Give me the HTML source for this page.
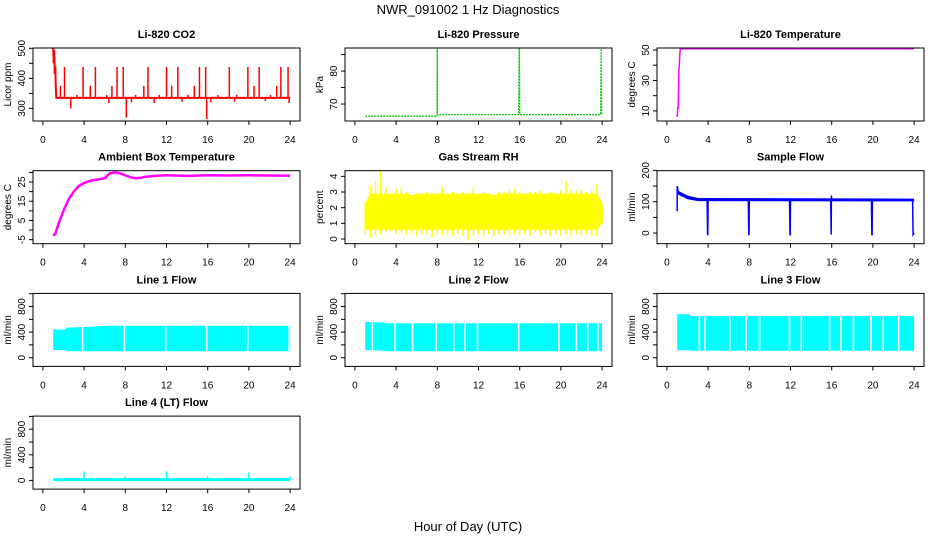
<!DOCTYPE html>
<html><head><meta charset="utf-8"><style>
body{margin:0;background:#fff;}
svg{display:block;font-family:"Liberation Sans",sans-serif;}
</style></head><body>
<svg id="chart" width="936" height="540" viewBox="0 0 936 540" xmlns="http://www.w3.org/2000/svg">
<rect width="936" height="540" fill="#fff"/>
<text x="468" y="14" text-anchor="middle" font-size="13">NWR_091002  1 Hz Diagnostics</text>
<text x="468" y="531" text-anchor="middle" font-size="13">Hour of Day (UTC)</text>
</svg>
<script>
// ---- data ----
const xTicks = [0,4,8,12,16,20,24];
const co2Hours = [1.0,1.05,1.1,1.15,1.2,1.25,1.3,24.0];
const co2Values = [500,450,495,415,440,370,335,335];
const co2Baseline = 335;
const co2SpikeHours = [2.1,3.9,5.1,7.2,7.8,10.2,12.0,13.1,15.2,15.8,18.1,19.9,21.0,23.1,23.8,1.7,3.3,4.6,6.2,6.7,9.0,9.8,11.3,12.5,14.1,14.7,17.0,18.8,20.5,22.1,22.7,8.1,15.9,2.7,6.4,8.6,10.8,13.5,16.3,18.6,21.6,23.9];
const co2SpikeValues = [438,438,438,438,438,438,438,438,438,438,438,438,438,438,438,375,345,375,345,375,345,375,345,375,345,375,345,345,375,345,375,270,265,300,318,320,318,322,320,322,325,318];
const presHours = [1.0,7.98,8.0,8.02,15.9,15.95,15.97,16.0,23.85,23.9,23.95,24.0];
const presValues = [66.3,66.3,86.8,66.8,66.8,87.0,84.5,66.8,66.8,86.8,66.9,66.9];
const ltempHours = [1.0,1.05,1.1,1.15,1.2,1.25,1.3,24.0];
const ltempValues = [6,12,12,33,40,47,50.8,50.8];
const ambHours = [1.0,1.2,1.5,2.0,2.5,3.0,3.5,4.0,4.5,5.0,5.5,6.0,6.5,7.0,7.5,8.0,8.5,9.0,9.5,10,11,12,14,16,18,20,22,24];
const ambValues = [-3,-2,3,10,16,20,23,24.5,25.5,26,26.5,27,29.5,30,29.5,28.5,27.5,27,27.2,27.8,28.3,28.5,28.2,28.5,28.4,28.5,28.4,28.3];
const rhHours = [1,1.5,2,2.5,3,3.5,4,4.5,5,5.5,6,6.5,7,7.5,8,8.5,9,9.5,10,10.5,11,11.5,12,12.5,13,13.5,14,14.5,15,15.5,16,16.5,17,17.5,18,18.5,19,19.5,20,20.5,21,21.5,22,22.5,23,23.5,24];
const rhHi = [2.3,3.4,3.7,4.4,3.3,2.9,3.2,3.3,3.0,2.8,2.9,2.9,3.0,2.9,2.9,3.3,2.9,3.0,2.9,3.0,2.9,3.3,2.9,3.0,2.9,2.8,3.0,3.0,3.1,3.2,3.0,2.9,3.0,3.0,3.1,2.9,3.0,2.9,3.1,3.7,3.2,3.1,3.2,3.0,3.1,3.5,2.3];
const rhLo = [0.3,0.1,0.2,0.3,0.4,0.5,0.3,0.4,0.3,0.4,0.2,0.3,0.3,0.1,0.3,0.2,0.3,0.2,0.3,0.2,-0.1,0.2,0.3,0.2,0.3,0.2,0.3,0.3,0.2,0.3,0.2,0.3,0.2,0.4,0.2,0.3,0.2,0.3,0.2,0.3,0.2,0.3,0.2,0.3,0.2,0.2,1.0];
const sfHours = [1.0,1.0,1.1,1.5,2.0,2.5,3.0,3.9,3.95,3.97,4.0,7.9,7.95,7.97,8.0,11.9,11.95,11.97,12.0,15.9,15.95,15.97,16.0,19.85,19.9,19.92,19.95,23.85,23.9,24.0];
const sfValues = [70,150,130,122,115,110,108,106,-5,-5,106,105,-5,-5,105,105,-5,-5,105,105,-5,120,105,105,-5,-5,105,105,-5,0];
const l1Hours = [1.0,2.2,2.3,4.0,6.5,24.0];
const l1Hi = [440,440,470,480,500,500];
const l1Lo = [120,120,100,100,100,100];
const l1Gaps = [3.85,7.92,11.92,15.9,19.88,23.92];
const l2Hours = [1.0,2.8,3.0,24.0];
const l2Hi = [560,550,540,540];
const l2Lo = [120,110,100,100];
const l2Gaps = [1.7,3.9,5.6,7.9,9.6,10.7,11.9,15.9,19.8,21.5,22.6,23.6];
const l3Hours = [1.0,2.2,2.3,24.0];
const l3Hi = [680,680,650,650];
const l3Lo = [115,115,110,110];
const l3Gaps = [3.15,3.7,6.1,7.7,9.0,11.9,13.05,15.8,16.9,18.1,19.8,21.0,22.5];
const l4SpikeHours = [4,8,12,16,20,24];
const l4SpikeValues = [140,60,140,60,130,60];
const l4Base = 12;

// ---- layout ----
const svg = document.getElementById('chart');
const NS = 'http://www.w3.org/2000/svg';
function mk(tag, attrs, parent){ const e=document.createElementNS(NS,tag); for(const k in attrs) e.setAttribute(k,attrs[k]); (parent||svg).appendChild(e); return e; }

function panel(col,row,title,ylab,ymin,ymax,ticks,labels,name){
  const L = 33+312*col, W = 267, B = 121+122.7*row, H = 73, T = B-H;
  const g = mk('g',{});
  
  
  const sx = h => L + (h+0.96)/25.92*W;
  const sy = v => B - (v-ymin)/(ymax-ymin)*H;
  const clip = mk('clipPath',{id:'c'+name},g);
  mk('rect',{x:L,y:T,width:W,height:H},clip);
  const plot = mk('g',{'clip-path':'url(#c'+name+')'},g);
  
  
  const box = mk('rect',{x:L,y:T,width:W,height:H,fill:'none',stroke:'#000','stroke-width':1},g);
  
  
  const tt = mk('text',{x:L+W/2,y:T-10,'text-anchor':'middle','font-size':11,'font-weight':'bold'},g);
  tt.textContent = title;
  
  
  const yl = mk('text',{transform:`translate(${L-22},${T+H/2}) rotate(-90)`,'text-anchor':'middle','font-size':10},g);
  yl.textContent = ylab;
  
  
  xTicks.forEach(t=>{
    mk('line',{x1:sx(t),x2:sx(t),y1:B,y2:B+4,stroke:'#000'},g);
    const tl = mk('text',{x:sx(t),y:B+22,'text-anchor':'middle','font-size':10},g);
    tl.textContent = t;
    
    
  });
  ticks.forEach(t=>{
    mk('line',{x1:L-4,x2:L,y1:sy(t),y2:sy(t),stroke:'#000'},g);
  });
  labels.forEach(t=>{
    const tl = mk('text',{transform:`translate(${L-8},${sy(t)}) rotate(-90)`,'text-anchor':'middle','font-size':10},g);
    tl.textContent = t;
    
    
  });
  return {sx,sy,plot};
}
function poly(p,hs,vs,color,w,name){
  const pts = hs.map((h,i)=>p.sx(h).toFixed(1)+','+p.sy(vs[i]).toFixed(1)).join(' ');
  const e = mk('polyline',{points:pts,fill:'none',stroke:color,'stroke-width':w},p.plot);
  
  
  return e;
}
function band(p,hs,hi,lo,color,name){
  const top = hs.map((h,i)=>p.sx(h).toFixed(1)+','+p.sy(hi[i]).toFixed(1));
  const bot = hs.map((h,i)=>p.sx(h).toFixed(1)+','+p.sy(lo[i]).toFixed(1)).reverse();
  const e = mk('polygon',{points:top.concat(bot).join(' '),fill:color},p.plot);
  
  
}
function gaps(p,gs,hi,lo,name){
  gs.forEach(h=>{
    const e = mk('line',{x1:p.sx(h),x2:p.sx(h),y1:p.sy(Math.max(...hi))-2,y2:p.sy(Math.min(...lo))+2,stroke:'#fff','stroke-width':1.6},p.plot);
    
    
  });
}

// CO2
let p = panel(0,0,'Li-820 CO2','Licor ppm',258,501,[300,350,400,450,500],[300,400,500],'co2');
poly(p,co2Hours,co2Values,'#f00',2,'co2-line');
co2SpikeHours.forEach((h,i)=>{
  const e = mk('line',{x1:p.sx(h),x2:p.sx(h),y1:p.sy(co2Baseline),y2:p.sy(co2SpikeValues[i]),stroke:'#f00','stroke-width':1.5},p.plot);
  
  
});
// Pressure
p = panel(1,0,'Li-820 Pressure','kPa',64.85,87.0,[70,75,80,85],[70,80],'pressure');
poly(p,presHours,presValues,'#0c0',1.3,'pressure-line').setAttribute('stroke-dasharray','2 1');
// Li temp
p = panel(2,0,'Li-820 Temperature','degrees C',3.4,51.3,[10,20,30,40,50],[10,30,50],'li820-temp');
poly(p,ltempHours,ltempValues,'#f0f',1.5,'li820-temp-line');
// Ambient
p = panel(0,1,'Ambient Box Temperature','degrees C',-7.1,30.9,[-5,0,5,10,15,20,25,30],[-5,5,15,25],'ambient-temp');
poly(p,ambHours,ambValues,'#f0f',2.5,'ambient-temp-line');
// RH
p = panel(1,1,'Gas Stream RH','percent',-0.3,4.36,[0,1,2,3,4],[0,1,2,3,4],'gas-rh');
band(p,rhHours,rhHi.map(v=>Math.min(v,2.9)),rhLo.map(v=>Math.max(v,0.6)),'#ff0','gas-rh-band');
rhHours.forEach((h,i)=>{
  const e = mk('line',{x1:p.sx(h),x2:p.sx(h),y1:p.sy(rhLo[i]),y2:p.sy(rhHi[i]),stroke:'#ff0','stroke-width':1.5},p.plot);
  
  
});
// Sample flow
p = panel(2,1,'Sample Flow','ml/min',-34,199,[0,50,100,150,200],[0,100,200],'sample-flow');
poly(p,sfHours,sfValues,'#00f',1.5,'sample-flow-line');
band(p,[1.1,2,3,24],[135,120,112,110],[122,108,102,101],'#00f','sample-flow-band');
// Line flows
const fT=[0,200,400,600,800,1000], fL=[0,400,800];
p = panel(0,2,'Line 1 Flow','ml/min',-136,1005,fT,fL,'line1-flow');
band(p,l1Hours,l1Hi,l1Lo,'#0ff','line1-flow-band'); gaps(p,l1Gaps,l1Hi,l1Lo,'line1-flow-gap');
p = panel(1,2,'Line 2 Flow','ml/min',-136,1005,fT,fL,'line2-flow');
band(p,l2Hours,l2Hi,l2Lo,'#0ff','line2-flow-band'); gaps(p,l2Gaps,l2Hi,l2Lo,'line2-flow-gap');
p = panel(2,2,'Line 3 Flow','ml/min',-136,1005,fT,fL,'line3-flow');
band(p,l3Hours,l3Hi,l3Lo,'#0ff','line3-flow-band'); gaps(p,l3Gaps,l3Hi,l3Lo,'line3-flow-gap');
p = panel(0,3,'Line 4 (LT) Flow','ml/min',-136,1005,fT,fL,'line4-flow');
poly(p,[1,24],[l4Base,l4Base],'#0ff',3,'line4-flow-line');
l4SpikeHours.forEach((h,i)=>{
  const e = mk('line',{x1:p.sx(h),x2:p.sx(h),y1:p.sy(l4Base),y2:p.sy(l4SpikeValues[i]),stroke:'#0ff','stroke-width':1.5},p.plot);
  
  
});
</script>
</body></html>
